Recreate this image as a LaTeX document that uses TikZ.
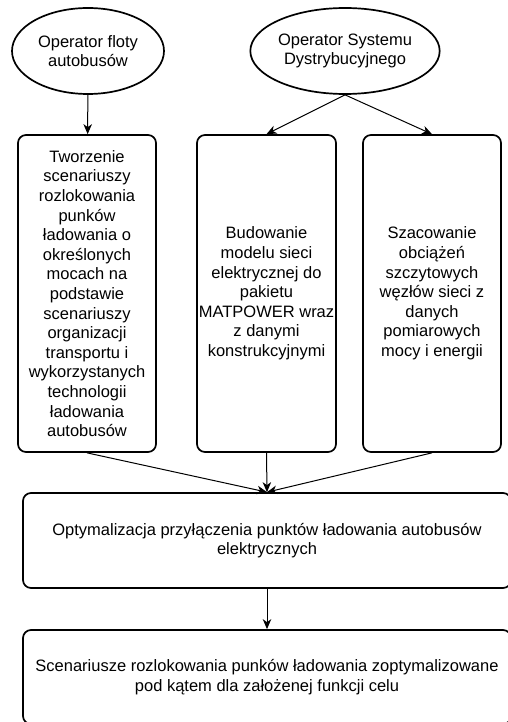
\documentclass[tikz,border=0pt]{standalone}
\usepackage{fontspec}
\setmainfont{Liberation Sans}
\usetikzlibrary{arrows.meta,shapes.geometric}
\begin{document}
\begin{tikzpicture}[x=1pt,y=-1pt,
  every node/.style={font=\fontsize{16.5}{19.6}\selectfont, align=center, inner sep=0pt},
  actor/.style={draw, ellipse, line width=1.7pt, minimum width=152, minimum height=86},
  stepbox/.style={draw, rectangle, rounded corners=8pt, line width=1.7pt},
  link/.style={draw, line width=1pt, -{Stealth[length=10pt,width=8.5pt,inset=3pt]}}
]
\useasboundingbox (0,0) rectangle (508,722);
\clip (0,0) rectangle (508,722);

% actors
\node[actor] (e1) at (88,51) {Operator floty\\autobusów};
\node[actor] (e2) at (345,51) {Operator Systemu\\Dystrybucyjnego};

% process boxes
\node[stepbox, minimum width=138, minimum height=317] (b1) at (87,293.5)
  {Tworzenie\\scenariuszy\\rozlokowania\\punków\\ładowania o\\określonych\\mocach na\\podstawie\\scenariuszy\\organizacji\\transportu i\\wykorzystanych\\technologii\\ładowania\\autobusów};
\node[stepbox, minimum width=139, minimum height=317] (b2) at (266.5,293.5)
  {Budowanie\\modelu sieci\\elektrycznej do\\pakietu\\MATPOWER wraz\\z danymi\\konstrukcyjnymi};
\node[stepbox, minimum width=138, minimum height=317] (b3) at (432,293.5)
  {Szacowanie\\obciążeń\\szczytowych\\węzłów sieci z\\danych\\pomiarowych\\mocy i energii};
\node[stepbox, minimum width=488, minimum height=95] (b4) at (267,540.5)
  {Optymalizacja przyłączenia punktów ładowania autobusów\\elektrycznych};
\node[stepbox, minimum width=488, minimum height=94] (b5) at (267,677)
  {Scenariusze rozlokowania punków ładowania zoptymalizowane\\pod kątem dla założenej funkcji celu};

% connectors
\path[link] (e1) -- (b1);
\path[link] (e2.south) -- (b2.north);
\path[link] (e2.south) -- (b3.north);
\path[link] (b1.south) -- (b4.north);
\path[link] (b2.south) -- (b4.north);
\path[link] (b3.south) -- (b4.north);
\path[link] (b4) -- (b5);
\end{tikzpicture}
\end{document}
